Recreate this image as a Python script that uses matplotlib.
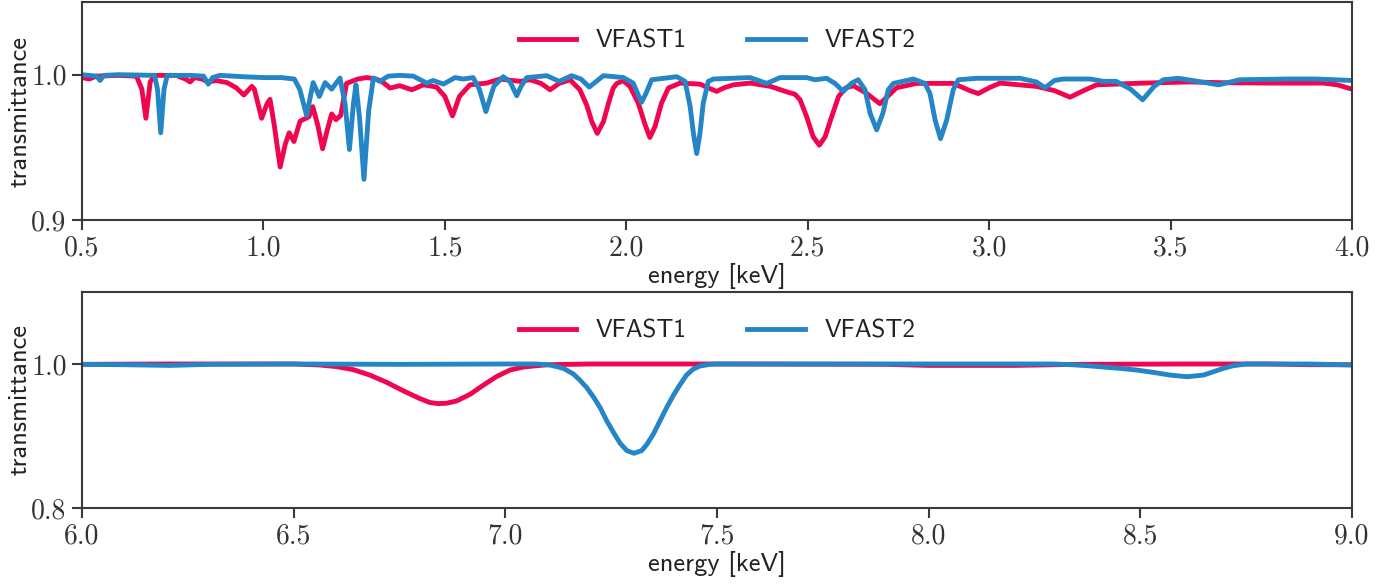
import matplotlib
matplotlib.use("Agg")
import matplotlib.pyplot as plt

plt.rcParams['font.family'] = ['cmss10', 'DejaVu Sans']
plt.rcParams['axes.unicode_minus'] = False

RED = '#F0064F'
BLUE = '#2586C7'
SPINE = '#3a3a3a'

# soft X-ray band, 0.5-4 keV
energy_soft_1 = [0.50, 0.52, 0.54, 0.60, 0.65, 0.665, 0.676, 0.688, 0.70, 0.76, 0.785, 0.798,
                 0.81, 0.83, 0.848, 0.87, 0.90, 0.925, 0.946, 0.968, 0.975, 0.995, 1.010, 1.018,
                 1.030, 1.046, 1.060, 1.071, 1.084, 1.101, 1.125, 1.136, 1.150, 1.163, 1.176,
                 1.188, 1.200, 1.213, 1.229, 1.26, 1.285, 1.31, 1.326, 1.349, 1.376, 1.409,
                 1.441, 1.477, 1.50, 1.521, 1.54, 1.569, 1.615, 1.652, 1.707, 1.735, 1.765,
                 1.790, 1.815, 1.845, 1.872, 1.891, 1.905, 1.920, 1.937, 1.951, 1.964, 1.974,
                 1.992, 2.010, 2.033, 2.052, 2.065, 2.079, 2.097, 2.116, 2.148, 2.203, 2.225,
                 2.249, 2.270, 2.295, 2.341, 2.396, 2.447, 2.465, 2.479, 2.497, 2.515, 2.532,
                 2.548, 2.566, 2.585, 2.605, 2.626, 2.663, 2.699, 2.745, 2.800, 2.901, 2.947,
                 2.970, 3.000, 3.030, 3.131, 3.180, 3.223, 3.260, 3.296, 3.425, 3.553, 3.636,
                 3.774, 3.921, 3.96, 4.00]
trans_soft_1 = [0.998, 0.997, 0.999, 0.9995, 0.999, 0.990, 0.970, 0.995, 0.9995, 0.9995, 0.997, 0.995,
                0.998, 0.997, 0.995, 0.996, 0.9945, 0.991, 0.986, 0.992, 0.990, 0.970, 0.980, 0.983,
                0.965, 0.9365, 0.952, 0.960, 0.954, 0.968, 0.971, 0.978, 0.965, 0.949, 0.962,
                0.973, 0.969, 0.972, 0.994, 0.997, 0.998, 0.997, 0.9954, 0.9908, 0.9924, 0.9896,
                0.993, 0.9915, 0.985, 0.9716, 0.985, 0.993, 0.9942, 0.997, 0.9954, 0.9965, 0.994,
                0.9896, 0.994, 0.9965, 0.9896, 0.979, 0.9677, 0.9596, 0.9677, 0.9804, 0.9908, 0.994,
                0.9958, 0.9919, 0.9804, 0.9654, 0.9568, 0.9642, 0.9804, 0.9908, 0.9942, 0.9935, 0.991,
                0.9885, 0.991, 0.993, 0.9942, 0.992, 0.9878, 0.9865, 0.9827, 0.9711, 0.9573, 0.9515,
                0.9573, 0.9711, 0.985, 0.991, 0.9924, 0.987, 0.980, 0.991, 0.994, 0.994, 0.989,
                0.987, 0.991, 0.9942, 0.9919, 0.989, 0.9845, 0.989, 0.993, 0.9942, 0.995, 0.9945,
                0.9942, 0.9942, 0.993, 0.990]

energy_soft_2 = [0.50, 0.54, 0.55, 0.56, 0.60, 0.70, 0.708, 0.717, 0.726, 0.735, 0.80, 0.835,
                 0.848, 0.86, 0.88, 0.95, 1.00, 1.05, 1.085, 1.100, 1.119, 1.137, 1.154, 1.170,
                 1.188, 1.211, 1.225, 1.237, 1.248, 1.255, 1.265, 1.277, 1.290, 1.303, 1.321,
                 1.344, 1.376, 1.413, 1.450, 1.468, 1.496, 1.528, 1.551, 1.578, 1.595, 1.613,
                 1.635, 1.661, 1.680, 1.698, 1.710, 1.726, 1.781, 1.815, 1.849, 1.875, 1.898,
                 1.937, 1.992, 2.019, 2.033, 2.042, 2.054, 2.070, 2.139, 2.162, 2.176, 2.185,
                 2.194, 2.203, 2.212, 2.226, 2.240, 2.341, 2.387, 2.424, 2.497, 2.520, 2.552,
                 2.575, 2.598, 2.620, 2.639, 2.658, 2.672, 2.690, 2.707, 2.722, 2.736, 2.791,
                 2.823, 2.837, 2.851, 2.866, 2.883, 2.901, 2.915, 2.966, 3.085, 3.130, 3.154,
                 3.180, 3.204, 3.278, 3.315, 3.350, 3.390, 3.423, 3.455, 3.480, 3.521, 3.560,
                 3.632, 3.691, 3.820, 3.902, 4.000]
trans_soft_2 = [1.000, 0.999, 0.996, 0.9995, 1.000, 0.9995, 0.990, 0.960, 0.990, 0.9995, 0.9995, 0.999,
                0.9935, 0.998, 0.9995, 0.9985, 0.998, 0.998, 0.997, 0.990, 0.972, 0.9945, 0.985, 0.9945,
                0.990, 0.9977, 0.980, 0.9485, 0.980, 0.993, 0.970, 0.928, 0.975, 0.9977, 0.9954,
                0.999, 0.9995, 0.999, 0.9942, 0.996, 0.9935, 0.998, 0.997, 0.998, 0.990, 0.9746,
                0.992, 0.9986, 0.995, 0.9855, 0.992, 0.998, 0.9993, 0.9954, 0.9993, 0.997, 0.9915,
                0.9993, 0.998, 0.9942, 0.986, 0.981, 0.987, 0.9965, 0.9986, 0.9954, 0.978, 0.9596,
                0.9457, 0.9596, 0.9804, 0.9954, 0.997, 0.998, 0.994, 0.998, 0.998, 0.9965, 0.9975,
                0.994, 0.9885, 0.994, 0.9965, 0.9896, 0.9734, 0.962, 0.9734, 0.9896, 0.994, 0.997,
                0.994, 0.987, 0.9688, 0.956, 0.9688, 0.9896, 0.9965, 0.9975, 0.9975, 0.995, 0.991,
                0.996, 0.997, 0.997, 0.9954, 0.9954, 0.990, 0.9827, 0.992, 0.9965, 0.9975, 0.996,
                0.993, 0.9965, 0.997, 0.997, 0.996]

# iron K band, 6-9 keV
energy_hard_1 = [6.00, 6.20, 6.50, 6.523, 6.562, 6.602, 6.641, 6.680, 6.720, 6.759, 6.798, 6.822,
                 6.842, 6.861, 6.885, 6.917, 6.948, 6.980, 7.011, 7.043, 7.058, 7.10, 7.20, 7.50,
                 7.90, 8.00, 8.20, 8.35, 8.60, 8.80, 8.90, 9.00]
trans_hard_1 = [0.9995, 1.000, 1.000, 0.9995, 0.9986, 0.9963, 0.9921, 0.9846, 0.9744, 0.9627, 0.952, 0.9464,
                0.945, 0.9455, 0.9487, 0.958, 0.9706, 0.9828, 0.9916, 0.9958, 0.9967, 0.999, 1.000, 1.000,
                0.9995, 0.998, 0.998, 0.9995, 1.000, 1.000, 0.999, 0.999]

energy_hard_2 = [6.00, 6.10, 6.208, 6.30, 6.50, 6.75, 7.00, 7.074, 7.1055, 7.137, 7.161, 7.176,
                 7.192, 7.208, 7.224, 7.239, 7.255, 7.271, 7.287, 7.304, 7.322, 7.334, 7.350, 7.365,
                 7.381, 7.397, 7.413, 7.428, 7.444, 7.460, 7.483, 7.50, 8.00, 8.295, 8.334, 8.373,
                 8.413, 8.452, 8.491, 8.531, 8.570, 8.610, 8.649, 8.673, 8.696, 8.720, 8.751, 8.80,
                 8.90, 9.00]
trans_hard_2 = [0.9995, 0.999, 0.998, 0.9995, 1.000, 0.9995, 1.000, 1.000, 0.9986, 0.994, 0.986, 0.9776,
                0.9674, 0.9543, 0.9394, 0.9217, 0.9054, 0.890, 0.8797, 0.876, 0.8797, 0.8881, 0.903, 0.9207,
                0.9394, 0.9566, 0.9716, 0.9846, 0.993, 0.9972, 0.9995, 1.000, 1.000, 1.000, 0.9991, 0.9977,
                0.9958, 0.9939, 0.9916, 0.9883, 0.9846, 0.9823, 0.9846, 0.9893, 0.9939, 0.9977, 1.000, 1.000,
                1.000, 0.9986]

panels = [
    (energy_soft_1, trans_soft_1, energy_soft_2, trans_soft_2,
     (0.5, 4.0), [0.5, 1.0, 1.5, 2.0, 2.5, 3.0, 3.5, 4.0], (0.9, 1.05), [0.9, 1.0]),
    (energy_hard_1, trans_hard_1, energy_hard_2, trans_hard_2,
     (6.0, 9.0), [6.0, 6.5, 7.0, 7.5, 8.0, 8.5, 9.0], (0.8, 1.1), [0.8, 1.0]),
]

fig = plt.figure(figsize=(13.97, 5.85), dpi=100)
axes = [fig.add_axes([0.0587, 0.6239, 0.9091, 0.3727]),
        fig.add_axes([0.0587, 0.1316, 0.9091, 0.3693])]

for ax, (e1, t1, e2, t2, xlim, xt, ylim, yt) in zip(axes, panels):
    ax.plot(e1, t1, color=RED, lw=3.5, label='VFAST1', solid_joinstyle='round')
    ax.plot(e2, t2, color=BLUE, lw=3.5, label='VFAST2', solid_joinstyle='round')
    ax.set_xlim(*xlim)
    ax.set_ylim(*ylim)
    ax.set_xticks(xt)
    ax.set_xticklabels([f'{v:.1f}' for v in xt], fontfamily='cmr10', fontsize=20)
    ax.set_yticks(yt)
    ax.set_yticklabels([f'{v:.1f}' for v in yt], fontfamily='cmr10', fontsize=20)
    ax.tick_params(direction='out', length=7, width=1.5, color=SPINE, labelcolor='#333333', pad=4)
    for s in ax.spines.values():
        s.set_color(SPINE)
        s.set_linewidth(1.5)
    ax.set_xlabel('energy [keV]', fontsize=19, color='#222222', labelpad=1)
    ax.set_ylabel('transmittance', fontsize=19, color='#222222', labelpad=0)
    ax.legend(loc='upper center', ncol=2, frameon=False, fontsize=18,
              handlelength=2.3, handletextpad=0.8, columnspacing=2.4,
              bbox_to_anchor=(0.5, 0.977), labelcolor='#222222')

fig.savefig('out.png', dpi=100, facecolor='white')
